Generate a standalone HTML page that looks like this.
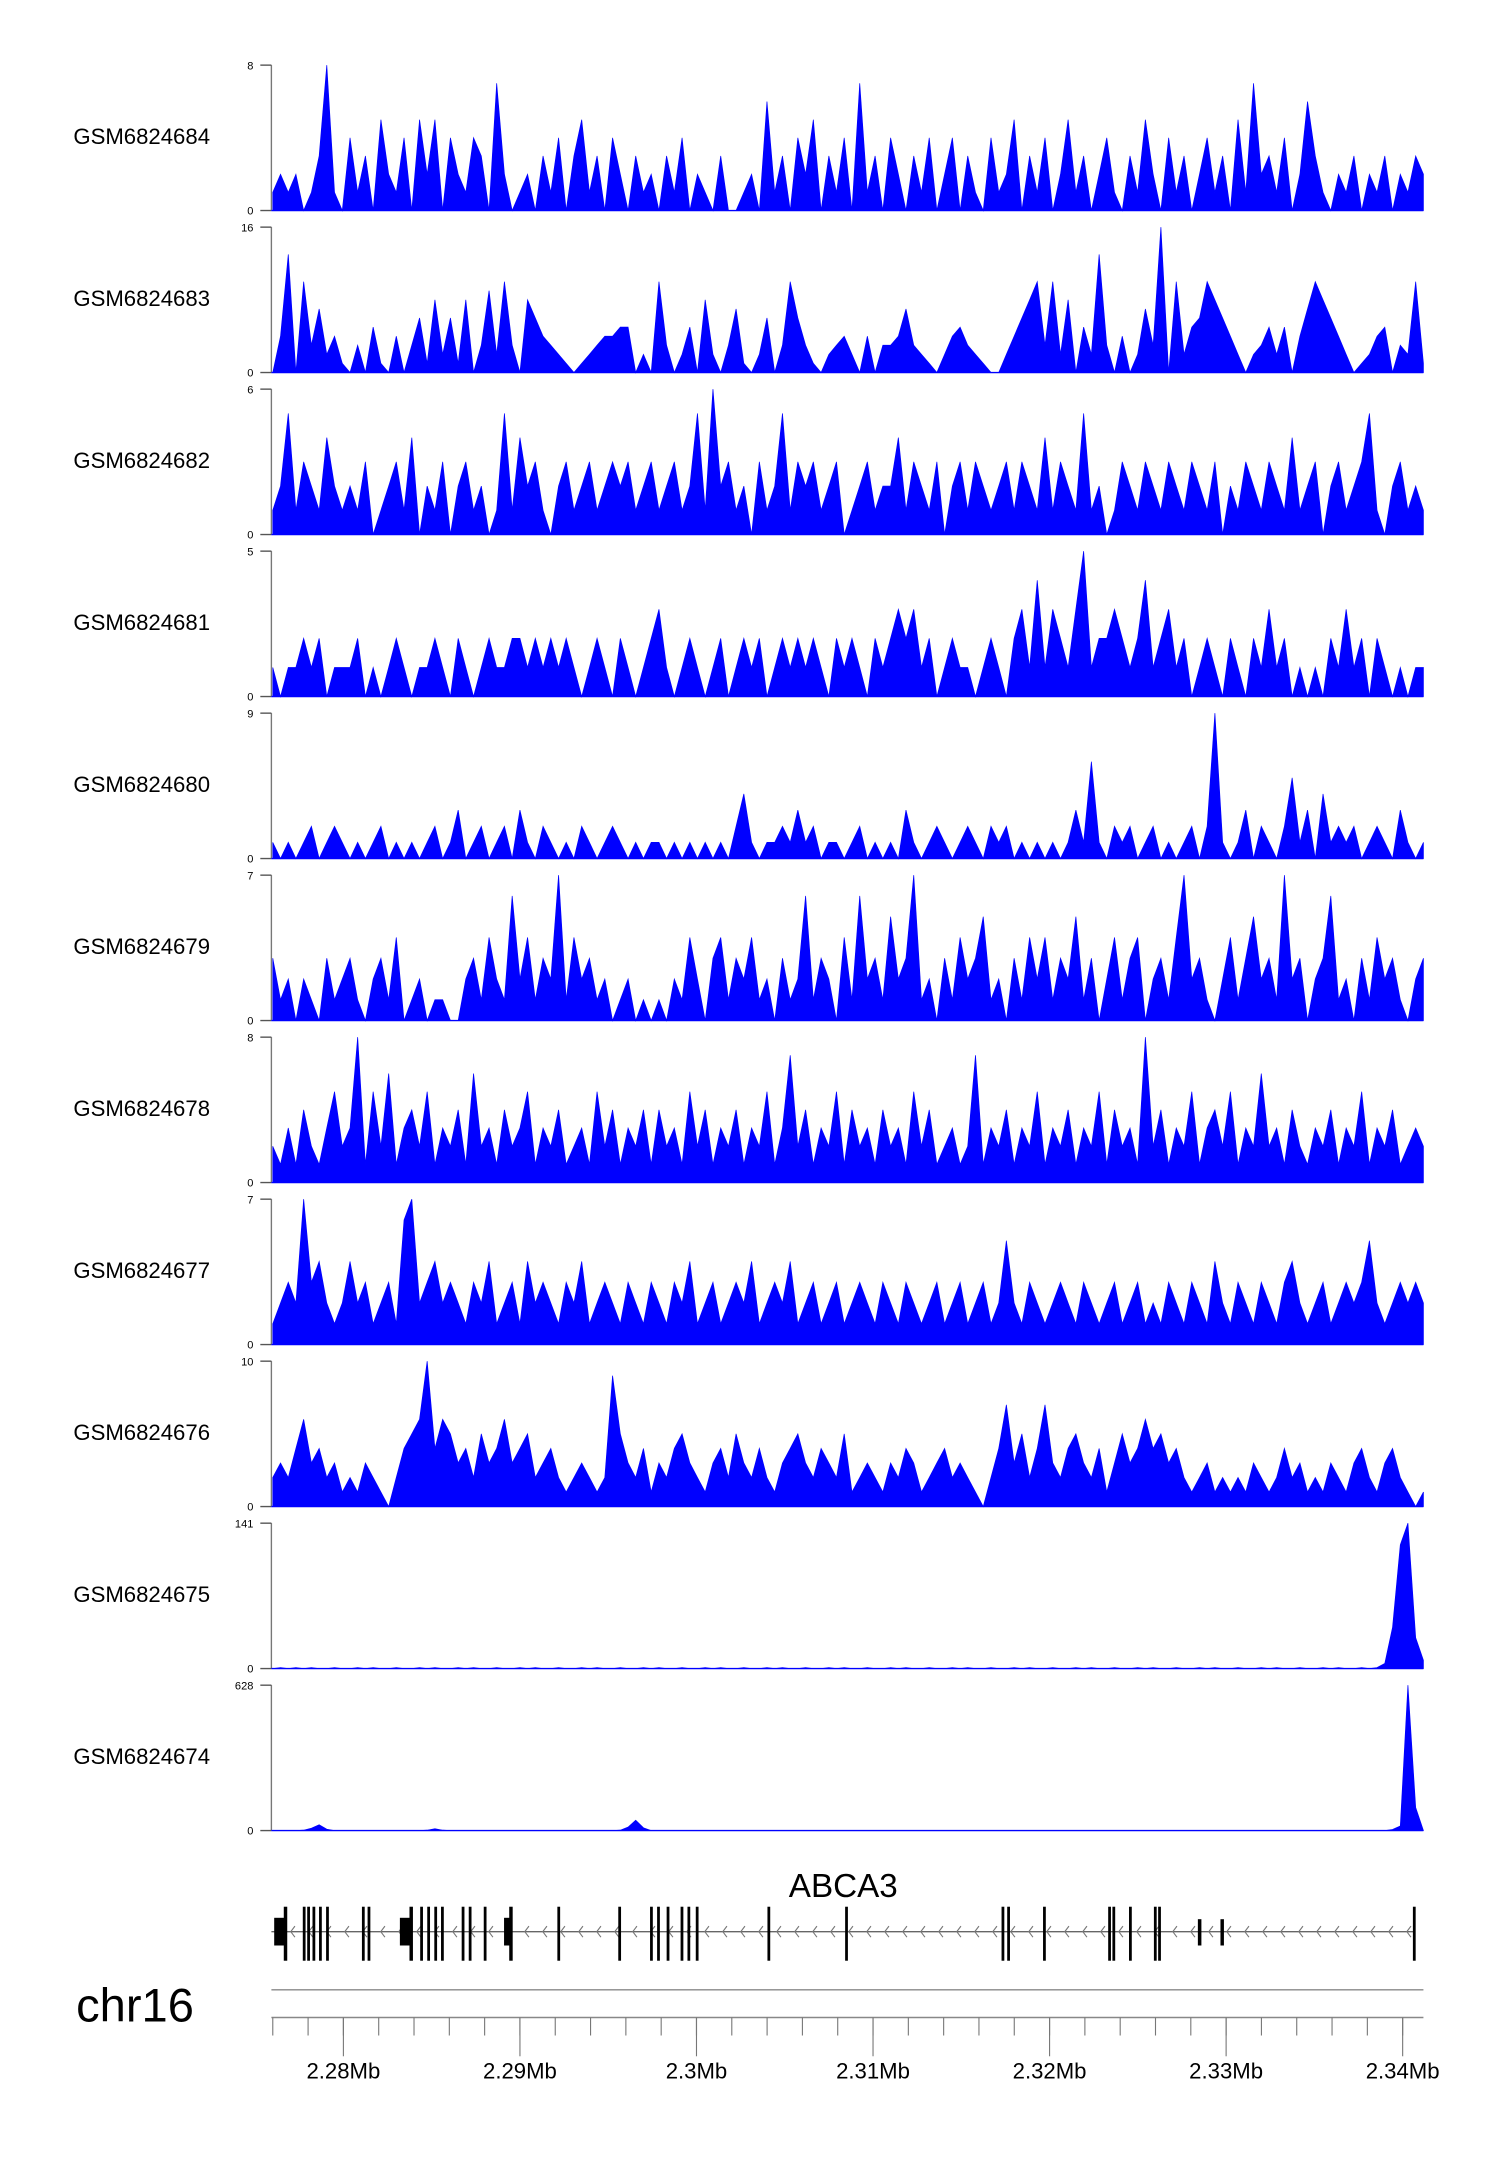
<!DOCTYPE html>
<html><head><meta charset="utf-8"><style>
html,body{margin:0;padding:0;background:#fff}
svg{display:block;font-family:"Liberation Sans",sans-serif}
</style></head><body>
<svg id="chart" width="1500" height="2170" viewBox="0 0 1083.3 1567.1" xmlns="http://www.w3.org/2000/svg"></svg>
<script>
const trackNames=["GSM6824684","GSM6824683","GSM6824682","GSM6824681","GSM6824680","GSM6824679","GSM6824678","GSM6824677","GSM6824676","GSM6824675","GSM6824674"];
const trackMax=[8,16,6,5,9,7,8,7,10,141,628];
const v684=[1,2,1,2,0,1,3,8,1,0,4,1,3,0,5,2,1,4,0,5,2,5,0,4,2,1,4,3,0,7,2,0,1,2,0,3,1,4,0,3,5,1,3,0,4,2,0,3,1,2,0,3,1,4,0,2,1,0,3,0,0,1,2,0,6,1,3,0,4,2,5,0,3,1,4,0,7,1,3,0,4,2,0,3,1,4,0,2,4,0,3,1,0,4,1,2,5,0,3,1,4,0,2,5,1,3,0,2,4,1,0,3,1,5,2,0,4,1,3,0,2,4,1,3,0,5,1,7,2,3,1,4,0,2,6,3,1,0,2,1,3,0,2,1,3,0,2,1,3,2];
const v683=[0,4,13,0,10,3,7,2,4,1,0,3,0,5,1,0,4,0,3,6,1,8,2,6,1,8,0,3,9,2,10,3,0,8,6,4,3,2,1,0,1,2,3,4,4,5,5,0,2,0,10,3,0,2,5,0,8,2,0,3,7,1,0,2,6,0,3,10,6,3,1,0,2,3,4,2,0,4,0,3,3,4,7,3,2,1,0,2,4,5,3,2,1,0,0,2,4,6,8,10,3,10,2,8,0,5,2,13,3,0,4,0,2,7,3,16,0,10,2,5,6,10,8,6,4,2,0,2,3,5,2,5,0,4,7,10,8,6,4,2,0,1,2,4,5,0,3,2,10,1];
const v682=[1,2,5,1,3,2,1,4,2,1,2,1,3,0,1,2,3,1,4,0,2,1,3,0,2,3,1,2,0,1,5,1,4,2,3,1,0,2,3,1,2,3,1,2,3,2,3,1,2,3,1,2,3,1,2,5,1,6,2,3,1,2,0,3,1,2,5,1,3,2,3,1,2,3,0,1,2,3,1,2,2,4,1,3,2,1,3,0,2,3,1,3,2,1,2,3,1,3,2,1,4,1,3,2,1,5,1,2,0,1,3,2,1,3,2,1,3,2,1,3,2,1,3,0,2,1,3,2,1,3,2,1,4,1,2,3,0,2,3,1,2,3,5,1,0,2,3,1,2,1];
const v681=[1,0,1,1,2,1,2,0,1,1,1,2,0,1,0,1,2,1,0,1,1,2,1,0,2,1,0,1,2,1,1,2,2,1,2,1,2,1,2,1,0,1,2,1,0,2,1,0,1,2,3,1,0,1,2,1,0,1,2,0,1,2,1,2,0,1,2,1,2,1,2,1,0,2,1,2,1,0,2,1,2,3,2,3,1,2,0,1,2,1,1,0,1,2,1,0,2,3,1,4,1,3,2,1,3,5,1,2,2,3,2,1,2,4,1,2,3,1,2,0,1,2,1,0,2,1,0,2,1,3,1,2,0,1,0,1,0,2,1,3,1,2,0,2,1,0,1,0,1,1];
const v680=[1,0,1,0,1,2,0,1,2,1,0,1,0,1,2,0,1,0,1,0,1,2,0,1,3,0,1,2,0,1,2,0,3,1,0,2,1,0,1,0,2,1,0,1,2,1,0,1,0,1,1,0,1,0,1,0,1,0,1,0,2,4,1,0,1,1,2,1,3,1,2,0,1,1,0,1,2,0,1,0,1,0,3,1,0,1,2,1,0,1,2,1,0,2,1,2,0,1,0,1,0,1,0,1,3,1,6,1,0,2,1,2,0,1,2,0,1,0,1,2,0,2,9,1,0,1,3,0,2,1,0,2,5,1,3,0,4,1,2,1,2,0,1,2,1,0,3,1,0,1];
const v679=[3,1,2,0,2,1,0,3,1,2,3,1,0,2,3,1,4,0,1,2,0,1,1,0,0,2,3,1,4,2,1,6,2,4,1,3,2,7,1,4,2,3,1,2,0,1,2,0,1,0,1,0,2,1,4,2,0,3,4,1,3,2,4,1,2,0,3,1,2,6,1,3,2,0,4,1,6,2,3,1,5,2,3,7,1,2,0,3,1,4,2,3,5,1,2,0,3,1,4,2,4,1,3,2,5,1,3,0,2,4,1,3,4,0,2,3,1,4,7,2,3,1,0,2,4,1,3,5,2,3,1,7,2,3,0,2,3,6,1,2,0,3,1,4,2,3,1,0,2,3];
const v678=[2,1,3,1,4,2,1,3,5,2,3,8,1,5,2,6,1,3,4,2,5,1,3,2,4,1,6,2,3,1,4,2,3,5,1,3,2,4,1,2,3,1,5,2,4,1,3,2,4,1,4,2,3,1,5,2,4,1,3,2,4,1,3,2,5,1,3,7,2,4,1,3,2,5,1,4,2,3,1,4,2,3,1,5,2,4,1,2,3,1,2,7,1,3,2,4,1,3,2,5,1,3,2,4,1,3,2,5,1,4,2,3,1,8,2,4,1,3,2,5,1,3,4,2,5,1,3,2,6,2,3,1,4,2,1,3,2,4,1,3,2,5,1,3,2,4,1,2,3,2];
const v677=[1,2,3,2,7,3,4,2,1,2,4,2,3,1,2,3,1,6,7,2,3,4,2,3,2,1,3,2,4,1,2,3,1,4,2,3,2,1,3,2,4,1,2,3,2,1,3,2,1,3,2,1,3,2,4,1,2,3,1,2,3,2,4,1,2,3,2,4,1,2,3,1,2,3,1,2,3,2,1,3,2,1,3,2,1,2,3,1,2,3,1,2,3,1,2,5,2,1,3,2,1,2,3,2,1,3,2,1,2,3,1,2,3,1,2,1,3,2,1,3,2,1,4,2,1,3,2,1,3,2,1,3,4,2,1,2,3,1,2,3,2,3,5,2,1,2,3,2,3,2];
const v676=[2,3,2,4,6,3,4,2,3,1,2,1,3,2,1,0,2,4,5,6,10,4,6,5,3,4,2,5,3,4,6,3,4,5,2,3,4,2,1,2,3,2,1,2,9,5,3,2,4,1,3,2,4,5,3,2,1,3,4,2,5,3,2,4,2,1,3,4,5,3,2,4,3,2,5,1,2,3,2,1,3,2,4,3,1,2,3,4,2,3,2,1,0,2,4,7,3,5,2,4,7,3,2,4,5,3,2,4,1,3,5,3,4,6,4,5,3,4,2,1,2,3,1,2,1,2,1,3,2,1,2,4,2,3,1,2,1,3,2,1,3,4,2,1,3,4,2,1,0,1];
const v675=[0,1,0,1,0,1,0,0,1,0,0,1,0,1,0,0,1,0,0,1,0,1,0,0,1,0,1,0,0,1,0,0,1,0,1,0,0,1,0,0,1,0,1,0,0,1,0,0,1,0,1,0,0,1,0,0,1,0,1,0,0,1,0,0,1,0,1,0,0,1,0,0,1,0,1,0,0,1,0,0,1,0,1,0,0,1,0,0,1,0,1,0,0,1,0,0,1,0,1,0,0,1,0,0,1,0,1,0,0,1,0,0,1,0,1,0,0,1,0,0,1,0,1,0,0,1,0,0,1,0,1,0,0,1,0,0,1,0,1,0,0,1,0,1,5,40,120,141,30,8];
const v674=[0,0,0,0,2,10,25,6,0,0,0,0,0,0,0,0,0,0,0,0,2,8,2,0,0,0,0,0,0,0,0,0,0,0,0,0,0,0,0,0,0,0,0,0,0,2,15,45,12,0,0,0,0,0,0,0,0,0,0,0,0,0,0,0,0,0,0,0,0,0,0,0,0,0,0,0,0,0,0,0,0,0,0,0,0,0,0,0,0,0,0,0,0,0,0,0,0,0,0,0,0,0,0,0,0,0,0,0,0,0,0,0,0,0,0,0,0,0,0,0,0,0,0,0,0,0,0,0,0,0,0,0,0,0,0,0,0,0,0,0,0,0,0,0,0,5,20,628,100,0];
const trackValues=[v684,v683,v682,v681,v680,v679,v678,v677,v676,v675,v674];
const tickLabels=["2.28Mb","2.29Mb","2.3Mb","2.31Mb","2.32Mb","2.33Mb","2.34Mb"];
const tickPos=[2.28,2.29,2.30,2.31,2.32,2.33,2.34];
const exons=[[0.08,0.78,1],[1.70,1.85,0],[1.95,2.05,0],[2.25,2.35,0],[2.62,2.72,0],[3.02,3.12,0],[5.05,5.15,0],[5.37,5.47,0],[7.2,7.9,1],[8.35,8.45,0],[8.75,8.85,0],[9.15,9.25,0],[9.53,9.63,0],[10.7,10.82,0],[11.1,11.2,0],[11.95,12.05,0],[13.1,13.55,1],[16.12,16.2,0],[19.57,19.65,0],[21.37,21.47,0],[21.77,21.85,0],[22.31,22.4,0],[23.1,23.18,0],[23.49,23.57,0],[23.96,24.04,0],[28.02,28.14,0],[32.42,32.53,0],[41.28,41.38,0],[41.6,41.7,0],[43.63,43.75,0],[47.32,47.42,0],[47.56,47.66,0],[48.5,48.6,0],[49.91,50.01,0],[50.15,50.25,0],[52.4,52.6,2],[53.68,53.8,2],[64.58,64.68,0]];

const svg=document.getElementById('chart');
const NS="http://www.w3.org/2000/svg";
function mk(tag,attrs,parent){const e=document.createElementNS(NS,tag);for(const k in attrs)e.setAttribute(k,attrs[k]);(parent||svg).appendChild(e);return e;}
const X0=197,X1=1028;
const gx=mb=>197+(mb-2.276)*12750;
const kx=kb=>197+kb*12.75;
for(let i=0;i<trackNames.length;i++){
  const top=47+117*i,base=top+105;
  const g=mk('g',{});
  
  
  const lab=mk('text',{x:53,y:top+57,'font-size':16,fill:'#000'},g);lab.textContent=trackNames[i];
  
  
  mk('line',{x1:196,y1:top,x2:196,y2:base,stroke:'#777','stroke-width':1},g);
  mk('line',{x1:188,y1:top,x2:196,y2:top,stroke:'#555','stroke-width':1},g);
  mk('line',{x1:188,y1:base,x2:196,y2:base,stroke:'#555','stroke-width':1},g);
  const t1=mk('text',{x:183,y:top+3,'font-size':8,'text-anchor':'end'},g);t1.textContent=trackMax[i];
  
  
  const t0=mk('text',{x:183,y:base+3,'font-size':8,'text-anchor':'end'},g);t0.textContent='0';
  
  
  const vals=trackValues[i],n=vals.length;
  const xs=j=>X0+(X1-X0)*j/(n-1);
  const ys=v=>base-105*Math.min(v,trackMax[i])/trackMax[i];
  let pts=X0+','+base;
  for(let j=0;j<n;j++)pts+=' '+xs(j).toFixed(1)+','+ys(vals[j]).toFixed(1);
  pts+=' '+X1+','+base;
  const p=mk('polygon',{points:pts,fill:'#0000ff',stroke:'#0000ff','stroke-width':0.5},g);
  
  
  mk('line',{x1:196,y1:base,x2:1028,y2:base,stroke:'#0000ff','stroke-width':1},g);
}
const gene=mk('g',{});


const gl=mk('text',{x:609,y:1370,'font-size':24,'text-anchor':'middle'},gene);gl.textContent='ABCA3';


mk('line',{x1:196,y1:1395,x2:1022,y2:1395,stroke:'#666','stroke-width':1},gene);
for(let x=210;x<1018;x+=13){mk('polyline',{points:(x+3)+',1391 '+x+',1395 '+(x+3)+',1399',fill:'none',stroke:'#777','stroke-width':0.8},gene);}
for(const e of exons){
  const a=kx(e[0]),b=kx(e[1]);
  if(e[2]===1){mk('rect',{x:a,y:1385,width:b-a,height:20,fill:'#000'},gene);mk('rect',{x:b-2,y:1377,width:2.5,height:39,fill:'#000'},gene);}
  else if(e[2]===2){mk('rect',{x:a,y:1386,width:Math.max(b-a,2.5),height:19,fill:'#000'},gene);}
  else mk('rect',{x:a,y:1377,width:Math.max(b-a,2),height:39,fill:'#000'},gene);
}
const ax=mk('g',{});


const chr=mk('text',{x:55,y:1460,'font-size':34},ax);chr.textContent='chr16';


mk('line',{x1:196,y1:1437,x2:1028,y2:1437,stroke:'#888','stroke-width':1},ax);
mk('line',{x1:196,y1:1457,x2:1028,y2:1457,stroke:'#888','stroke-width':1},ax);
for(let mb=2.276;mb<=2.3405;mb+=0.002){mk('line',{x1:gx(mb),y1:1457,x2:gx(mb),y2:1470,stroke:'#777','stroke-width':0.8},ax);}
for(let k=0;k<tickPos.length;k++){
  const x=gx(tickPos[k]);
  mk('line',{x1:x,y1:1457,x2:x,y2:1485,stroke:'#777','stroke-width':0.8},ax);
  const t=mk('text',{x:x,y:1501,'font-size':16,'text-anchor':'middle'},ax);t.textContent=tickLabels[k];
  
  
}
</script>
</body></html>
